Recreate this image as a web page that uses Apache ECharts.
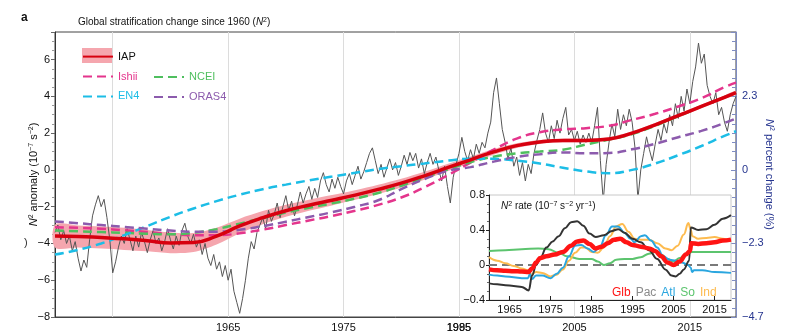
<!DOCTYPE html>
<html><head><meta charset="utf-8">
<script src="https://cdn.jsdelivr.net/npm/echarts@6/dist/echarts.min.js"></script>
<style>html,body{margin:0;padding:0;background:#fff}#c{width:796px;height:336px}</style>
</head><body><div id="c"></div>
<script>
// ---------- main panel data ----------
const smoothYears = [1960,1962,1964,1966,1968,1970,1972,1974,1976,1978,1980,1982,1984,1986,1988,1990,1992,1994,1996,1998,2000,2002,2004,2006,2008,2010,2012,2014,2016,2018,2019];
const IAP   = [-3.6,-3.62,-3.68,-3.75,-3.85,-3.97,-3.95,-3.6,-3.05,-2.6,-2.22,-1.92,-1.65,-1.37,-1.06,-0.72,-0.32,0.12,0.55,0.98,1.32,1.52,1.6,1.6,1.68,2.0,2.45,2.95,3.45,3.95,4.2];
const IAPerr= [0.62,0.6,0.6,0.6,0.58,0.56,0.52,0.46,0.4,0.36,0.33,0.3,0.28,0.26,0.25,0.24,0.22,0.2,0.18,0.16,0.13,0.11,0.1,0.1,0.1,0.1,0.1,0.1,0.1,0.1,0.1];
const Ishii = [-3.12,-3.15,-3.2,-3.28,-3.38,-3.48,-3.55,-3.55,-3.45,-3.25,-3.0,-2.75,-2.5,-2.22,-1.9,-1.5,-0.95,-0.3,0.4,1.1,1.7,2.05,2.2,2.27,2.4,2.72,3.05,3.45,3.9,4.5,4.75];
const NCEI  = [-3.3,-3.34,-3.38,-3.42,-3.47,-3.5,-3.42,-3.22,-2.92,-2.62,-2.32,-2.06,-1.82,-1.56,-1.26,-0.86,-0.42,0.02,0.42,0.72,0.9,1.0,1.1,1.38,1.65,1.95,2.4,2.92,3.45,3.95,4.2];
const EN4   = [-4.6,-4.35,-4.0,-3.55,-3.05,-2.55,-2.1,-1.7,-1.35,-1.05,-0.8,-0.57,-0.36,-0.16,0.04,0.2,0.35,0.5,0.6,0.6,0.5,0.35,0.12,-0.08,-0.18,0.0,0.35,0.8,1.3,1.85,2.1];
const ORAS4 = [-2.8,-2.9,-3.0,-3.1,-3.2,-3.3,-3.36,-3.36,-3.26,-3.06,-2.82,-2.56,-2.3,-2.0,-1.65,-1.05,-0.5,-0.05,0.15,0.45,0.7,0.85,0.95,0.9,0.92,1.12,1.42,1.78,2.12,2.55,2.8];

// quarterly IAP raw anomaly (gray), starting 1960.0
const rawStart = 1960, rawStep = 0.25;
const rawIAP = [
 -3.4,-3.0,-3.8,-3.3, -4.0,-3.6,-4.4,-3.9, -4.8,-5.5,-4.9,-5.3, -3.8,-2.5,-1.9,-1.4,
 -2.0,-1.6,-2.6,-3.8, -5.6,-5.0,-4.2,-3.6, -4.0,-3.2,-3.8,-4.4, -3.6,-4.2,-3.4,-3.9,
 -4.5,-3.8,-3.3,-4.0, -3.7,-4.4,-3.9,-3.2, -3.8,-4.3,-3.6,-4.1, -3.3,-2.9,-3.6,-4.0,
 -3.5,-4.2,-3.8,-4.6, -4.0,-4.8,-5.2,-4.6, -5.4,-5.0,-5.8,-5.2, -6.0,-5.4,-6.6,-7.2,
 -7.8,-7.0,-6.0,-4.8, -3.9,-4.3,-3.4,-3.0, -2.6,-3.2,-2.2,-2.8, -2.4,-1.8,-2.6,-2.0,
 -1.4,-2.2,-1.7,-2.5, -1.9,-1.2,-1.8,-1.3, -0.9,-1.6,-1.0,-1.5, -0.6,-0.15,-0.8,-1.2,
 -0.5,-1.0,-0.4,-0.9, -1.3,-0.6,-0.2,-0.8, -0.3,0.2,-0.5,-0.1, 0.4,0.9,1.2,0.5,
 -0.2,0.3,-0.4,0.1, 0.6,0.0,0.4,-0.3, 0.2,0.8,0.3,0.95, 0.5,0.9,0.1,0.6,
 -0.2,0.4,0.9,0.3, 0.7,0.0,-0.6,0.2, -0.9,-1.8,-0.4,0.3, 0.9,1.77,1.0,0.5,
 1.1,0.6,1.4,0.9, 1.5,1.2,2.0,2.6, 4.2,5.0,3.6,2.2, 1.5,0.6,1.2,0.2,
 0.7,-0.3,0.4,-0.6, 0.3,-0.2,0.9,1.6, 2.2,3.1,2.0,1.5, 2.4,1.7,2.7,2.0,
 2.8,3.4,1.9,2.2, 1.6,2.1,1.4,1.9, 1.5,2.0,1.5,2.4, 3.4,0.5,-1.7,0.3,
 1.5,2.5,1.8,3.3, 2.2,3.0,2.4,3.3, 2.6,1.2,-1.6,0.0, 0.9,1.8,1.1,0.5,
 1.4,2.2,1.6,2.5, 2.0,3.0,2.4,3.6, 2.8,4.0,3.2,4.4, 3.6,4.8,5.6,6.9,
 5.8,6.3,4.6,4.0, 3.6,4.2,3.0,3.4, 2.6,2.1,3.0,3.6, 4.0
];

// axis ticks / labels
const gridYears = [1965,1975,1985,1995,2005,2015];
const mainLabelPos = [1975,1985,1995,2005,2015];
const mainLabelText = ['1965','1975','1985','2005','2015'];
const mainLabelPos2 = [1995];
const mainLabelText2 = ['1995'];
const rightTickVals = [-8,-4,0,4];
const rightTickText = ['\u22124.7','\u22122.3','0','2.3'];
const insetTickYears = [1965,1975,1985,1995,2005,2015];

// ---------- inset data: N2 rate ----------
const Glb = [[1960,-0.05],[1962,-0.06],[1964,-0.065],[1966,-0.07],[1968,-0.075],[1969.6,-0.08],[1970.5,-0.04],[1971.5,0.03],[1972.5,0.08],[1974,0.1],[1976,0.12],[1978,0.15],[1980,0.22],[1981.5,0.27],[1983,0.28],[1984.5,0.24],[1986,0.19],[1987.5,0.21],[1989,0.25],[1990.5,0.29],[1992,0.3],[1993.5,0.26],[1995,0.23],[1997,0.21],[1999,0.19],[2000.5,0.16],[2002,0.1],[2003.5,0.03],[2005,0.0],[2006.5,0.04],[2008,0.12],[2009,0.16],[2009.3,0.25],[2011,0.24],[2013,0.25],[2015,0.26],[2017,0.28],[2019,0.29]];
const Pac = [[1960,-0.21],[1962,-0.22],[1964,-0.23],[1966,-0.24],[1968,-0.25],[1969.7,-0.29],[1970.5,-0.12],[1971.5,0.0],[1972.5,0.08],[1974,0.2],[1975.5,0.27],[1977,0.33],[1978.5,0.42],[1980,0.49],[1981.5,0.5],[1983,0.45],[1984.5,0.36],[1986,0.32],[1988,0.34],[1990,0.39],[1991.5,0.41],[1993,0.37],[1995,0.3],[1997,0.26],[1999,0.17],[2001,0.07],[2003,-0.05],[2004.5,-0.12],[2005.5,-0.13],[2006.5,-0.1],[2007.5,-0.05],[2008.8,0.05],[2009.2,0.43],[2011,0.4],[2013,0.41],[2015,0.46],[2017,0.53],[2019,0.57]];
const Atl = [[1960,-0.11],[1962,-0.12],[1964,-0.13],[1966,-0.14],[1968,-0.15],[1969.5,-0.15],[1970,-0.1],[1970.5,-0.16],[1971.5,-0.12],[1973,-0.12],[1975,-0.15],[1976.5,-0.1],[1978,-0.03],[1979.5,0.1],[1981,0.22],[1982.5,0.23],[1984,0.19],[1985.5,0.15],[1987,0.2],[1988.5,0.34],[1990,0.44],[1991.5,0.44],[1993,0.37],[1994.5,0.3],[1995.5,0.26],[1997,0.33],[1998,0.34],[1999.5,0.28],[2001,0.2],[2002.5,0.1],[2004,0.06],[2005.5,0.05],[2007,0.03],[2008.5,0.0],[2009.2,-0.03],[2009.5,-0.08],[2010,-0.06],[2012,-0.06],[2015,-0.08],[2019,-0.09]];
const So = [[1960,0.16],[1964,0.17],[1968,0.18],[1972,0.19],[1974.5,0.18],[1977,0.14],[1979,0.1],[1982,0.07],[1985,0.07],[1986.5,0.04],[1988,0.0],[1989.5,0.02],[1991,0.06],[1993,0.07],[1995,0.07],[1997,0.09],[1999,0.13],[2000.5,0.15],[2002,0.12],[2003.5,0.07],[2005,0.04],[2006.5,0.08],[2008,0.13],[2009.5,0.15],[2012,0.15],[2015,0.15],[2019,0.15]];
const Ind = [[1960,0.09],[1962,0.05],[1964,0.02],[1966,-0.01],[1968,-0.04],[1969.5,-0.06],[1970.2,-0.11],[1971.5,-0.08],[1973,-0.09],[1975,-0.13],[1976.5,-0.11],[1978,-0.05],[1979.5,0.05],[1981,0.14],[1982.5,0.2],[1983.5,0.2],[1985,0.15],[1986.5,0.14],[1988,0.2],[1989.5,0.33],[1991,0.44],[1992.5,0.47],[1994,0.38],[1995.5,0.3],[1997,0.29],[1999,0.29],[2001,0.25],[2003,0.19],[2004.5,0.17],[2006,0.22],[2007.5,0.35],[2008.6,0.48],[2009.2,0.4],[2009.6,0.33],[2011,0.3],[2013,0.31],[2015,0.32],[2017,0.3],[2019,0.28]];

// ---------- build ----------
const FONT = 'Liberation Sans, Arial, Helvetica, sans-serif';
const pair = (xs, ys) => xs.map((x, i) => [x, ys[i]]);
const rawData = rawIAP.map((v, i) => [rawStart + i * rawStep, v]);
const bandUp = smoothYears.map((x, i) => [x, IAP[i] + IAPerr[i]]);
const bandLow = smoothYears.map((x, i) => [x, IAP[i] - IAPerr[i]]);
const minus = v => (v < 0 ? '\u2212' + Math.abs(v) : String(v));

const C = {iap:'#d7000f', band:'#f5a6ae', ishii:'#e4358c', ncei:'#4fbf5e', en4:'#1cbde6', oras:'#8c5bad', raw:'#555',
           glb:'#ff1414', pac:'#333333', atl:'#2aa6df', so:'#5cc46e', ind:'#fdbb4f', navy:'#26358f'};
const rich = {n:{fontStyle:'italic', fontFamily:FONT}, s:{fontSize:7, verticalAlign:'top', fontFamily:FONT}};

function dashed(name, data, color) {
  return {name, type:'line', data, xAxisIndex:0, yAxisIndex:0, smooth:true, symbol:'none', z:3,
    lineStyle:{color, width:2.5, type:[9,5]}, itemStyle:{color}, animation:false};
}
function insetLine(name, data, color, width, z) {
  return {name, type:'line', data, xAxisIndex:2, yAxisIndex:2, smooth:0.4, smoothMonotone:'x', symbol:'none', z:z||10,
    lineStyle:{color, width}, itemStyle:{color}, animation:false};
}

const chart = echarts.init(document.getElementById('c'), null, {renderer:'canvas'});
chart.setOption({
  animation:false,
  textStyle:{fontFamily:FONT},
  title:[
    {text:'a', left:21, top:12, padding:0, textStyle:{fontSize:12, fontWeight:'bold', color:'#111', fontFamily:FONT}},
    {text:'Global stratification change since 1960 ({n|N}{s|2})', left:78, top:17, padding:0,
     textStyle:{fontSize:10, fontWeight:'normal', color:'#111', fontFamily:FONT, rich}},
    {text:'{n|N}{s|2} rate (10{s|\u22127} s{s|\u22122} yr{s|\u22121})', left:501, top:201, padding:0, z:12,
     textStyle:{fontSize:10, fontWeight:'normal', color:'#111', fontFamily:FONT, rich}}
  ],
  graphic:[
    {type:'rect', shape:{x:82, y:48, width:30, height:15}, style:{fill:C.band}, z:1},
    {type:'text', x:24, y:237, style:{text:')', fill:'#333', font:'11px ' + FONT}, z:1}
  ],
  legend:[
    {left:82, top:51, padding:0, orient:'vertical', itemWidth:30, itemHeight:14, itemGap:8.7, selectedMode:false, z:5,
     itemStyle:{opacity:0}, textStyle:{fontSize:11, fontFamily:FONT},
     data:[{name:'IAP', textStyle:{color:'#111'}}, {name:'Ishii', textStyle:{color:C.ishii}}, {name:'EN4', textStyle:{color:C.en4}}]},
    {left:153, top:71.5, padding:0, orient:'vertical', itemWidth:30, itemHeight:14, itemGap:8.7, selectedMode:false, z:5,
     itemStyle:{opacity:0}, textStyle:{fontSize:11, fontFamily:FONT},
     data:[{name:'NCEI', textStyle:{color:C.ncei}}, {name:'ORAS4', textStyle:{color:C.oras}}]},
    {left:607, top:285.5, padding:0, orient:'horizontal', icon:'none', itemWidth:0, itemHeight:14, itemGap:0, selectedMode:false, z:12,
     textStyle:{fontSize:12, fontFamily:FONT},
     data:[{name:'Glb', textStyle:{color:C.glb}}, {name:'Pac', textStyle:{color:'#8a8a8a'}}, {name:'Atl', textStyle:{color:C.atl}},
           {name:'So', textStyle:{color:C.so}}, {name:'Ind', textStyle:{color:C.ind}}]}
  ],
  grid:[
    {left:55, right:60, top:32, bottom:19, show:true, borderColor:'#444', borderWidth:1, backgroundColor:'transparent'},
    {left:489, top:195, width:242, height:105, show:true, backgroundColor:'#fff', borderColor:'#c8c8c8', borderWidth:1, z:8}
  ],
  xAxis:[
    {type:'value', gridIndex:0, min:1960, max:2019, position:'bottom',
     axisLine:{onZero:false, lineStyle:{color:'#444', width:1}},
     axisTick:{show:true, inside:true, length:4, customValues:gridYears, lineStyle:{color:'#444'}},
     axisLabel:{customValues:mainLabelPos, margin:5, fontSize:11, color:'#111', fontFamily:FONT,
       formatter:v => { const i = mainLabelPos.indexOf(v); return i >= 0 ? mainLabelText[i] : ''; }},
     splitLine:{show:false}},
    {type:'value', gridIndex:0, min:1960, max:2019, position:'bottom',
     axisLine:{show:false, onZero:false}, axisTick:{show:false}, splitLine:{show:false},
     axisLabel:{customValues:mainLabelPos2, margin:5, fontSize:11, color:'#111', fontFamily:FONT,
       formatter:v => { const i = mainLabelPos2.indexOf(v); return i >= 0 ? mainLabelText2[i] : ''; }}},
    {type:'value', gridIndex:1, min:1960, max:2019, position:'bottom', z:9,
     axisLine:{onZero:false, lineStyle:{color:'#222', width:1}},
     axisTick:{show:true, inside:true, length:4, customValues:insetTickYears, lineStyle:{color:'#222'}},
     axisLabel:{customValues:insetTickYears, margin:4, fontSize:11, color:'#111', fontFamily:FONT, formatter:v => String(v)},
     splitLine:{show:false}}
  ],
  yAxis:[
    {type:'value', gridIndex:0, min:-8, max:7.5, interval:2, position:'left',
     name:'{n|N}{s|2} anomaly (10{s|\u22127} s{s|\u22122})', nameLocation:'middle', nameRotate:90, nameGap:16, nameMoveOverlap:false,
     nameTextStyle:{fontSize:11, color:'#111', fontFamily:FONT, rich},
     axisLine:{show:true, onZero:false, lineStyle:{color:'#333', width:1}},
     axisTick:{show:true, length:4, lineStyle:{color:'#666'}},
     minorTick:{show:true, splitNumber:4, length:3, lineStyle:{color:'#999'}},
     axisLabel:{fontSize:11, color:'#111', margin:5, showMaxLabel:false, fontFamily:FONT, formatter:v => minus(v)},
     splitLine:{show:false}},
    {type:'value', gridIndex:0, min:-8, max:7.5, interval:4, position:'right',
     name:'{n|N}{s|2} percent change (%)', nameLocation:'middle', nameRotate:-90, nameGap:28, nameMoveOverlap:false,
     nameTextStyle:{fontSize:11, color:C.navy, fontFamily:FONT, rich},
     axisLine:{show:true, onZero:false, lineStyle:{color:'#7f8cc2', width:1}},
     axisTick:{show:true, inside:true, length:5, lineStyle:{color:'#7f8cc2'}},
     minorTick:{show:true, splitNumber:8, length:4, lineStyle:{color:'#7f8cc2'}},
     axisLabel:{fontSize:11, color:C.navy, margin:6, showMaxLabel:false, fontFamily:FONT,
       formatter:v => { const i = rightTickVals.indexOf(v); return i >= 0 ? rightTickText[i] : ''; }},
     splitLine:{show:false}},
    {type:'value', gridIndex:1, min:-0.4, max:0.8, interval:0.4, z:9,
     axisLine:{show:true, onZero:false, lineStyle:{color:'#222', width:1}},
     axisTick:{show:true, length:3, lineStyle:{color:'#222'}},
     minorTick:{show:true, splitNumber:4, length:2, lineStyle:{color:'#666'}},
     axisLabel:{fontSize:11, color:'#111', margin:4, fontFamily:FONT, formatter:v => minus(Math.round(v * 10) / 10)},
     splitLine:{show:false}}
  ],
  series:[
    {name:'band', type:'custom', xAxisIndex:0, yAxisIndex:0, z:1, silent:true, data:[[smoothYears[0], IAP[0]]],
     renderItem:(params, api) => {
       const up = bandUp.map(p => api.coord(p));
       const lo = bandLow.map(p => api.coord(p)).reverse();
       return {type:'polygon', shape:{points:up.concat(lo), smooth:0.3}, style:{fill:C.band}};
     },
     markLine:{silent:true, symbol:'none', z:1, label:{show:false}, animation:false,
       lineStyle:{color:'#dcdcdc', type:'solid', width:1}, data:gridYears.map(y => ({xAxis:y}))}},
    {name:'raw', type:'line', data:rawData, symbol:'none', z:2, lineStyle:{color:C.raw, width:1}, silent:true},
    dashed('Ishii', pair(smoothYears, Ishii), C.ishii),
    dashed('NCEI', pair(smoothYears, NCEI), C.ncei),
    dashed('EN4', pair(smoothYears, EN4), C.en4),
    dashed('ORAS4', pair(smoothYears, ORAS4), C.oras),
    {name:'IAP', type:'line', data:pair(smoothYears, IAP), smooth:true, symbol:'none', z:4,
     lineStyle:{color:C.iap, width:3.5}, itemStyle:{color:C.iap}},
    Object.assign(insetLine('So', So, C.so, 2),
      {markLine:{silent:true, symbol:'none', z:10, label:{show:false}, animation:false,
        lineStyle:{color:'#7a7a7a', type:[8,5], width:2}, data:[{yAxis:0}]}}),
    insetLine('Ind', Ind, C.ind, 2),
    insetLine('Atl', Atl, C.atl, 2),
    insetLine('Pac', Pac, C.pac, 2),
    insetLine('Glb', Glb, C.glb, 4.5, 11)
  ]
});
</script></body></html>
